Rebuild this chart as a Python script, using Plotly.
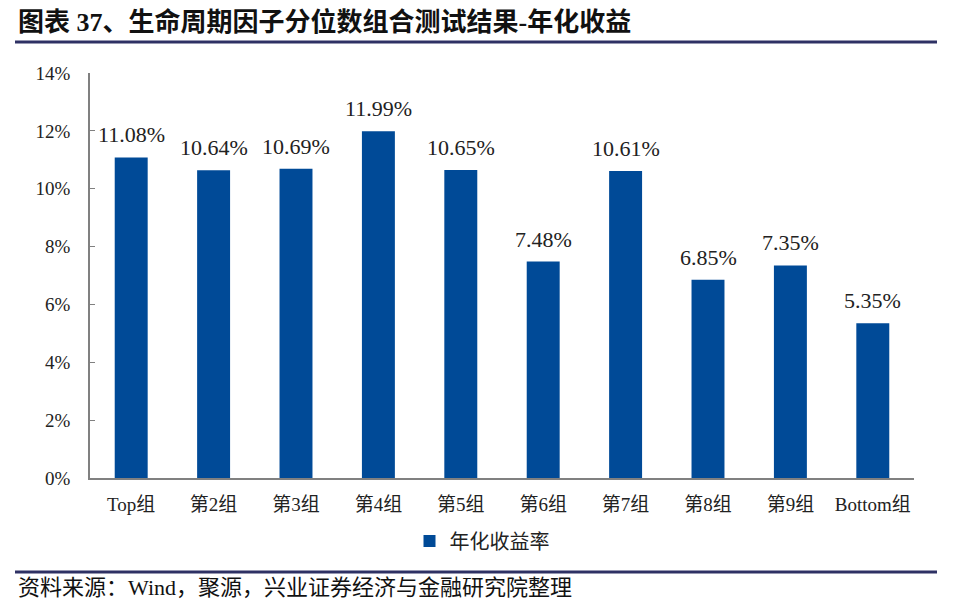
import plotly.graph_objects as go

categories = ["Top组", "第2组", "第3组", "第4组", "第5组", "第6组", "第7组", "第8组", "第9组", "Bottom组"]
annual_return = [11.08, 10.64, 10.69, 11.99, 10.65, 7.48, 10.61, 6.85, 7.35, 5.35]
y_ticks = [0, 2, 4, 6, 8, 10, 12, 14]
series_name = "年化收益率"
title_text = "图表 37、生命周期因子分位数组合测试结果-年化收益"
source_text = "资料来源：Wind，聚源，兴业证券经济与金融研究院整理"

FONT = "Liberation Serif, Times New Roman, Noto Sans CJK SC"
BAR = "#004A97"
NAVY = "#2E3164"

L, R, T, B = 90, 56, 73, 131
W, H = 970, 609
pw, ph = W - L - R, H - T - B

def px_x(x):
    return (x - L) / pw

def px_y(y):
    return (H - B - y) / ph

fig = go.Figure()
fig.add_trace(go.Bar(
    x=categories, y=annual_return, name=series_name,
    marker=dict(color=BAR, line=dict(width=0)),
    showlegend=True,
))

annotations = [
    dict(x=c, y=v, xref="x", yref="y", text=f"{v:.2f}%", showarrow=False,
         yanchor="bottom", yshift=8, font=dict(family=FONT, size=22, color="#222222"))
    for c, v in zip(categories, annual_return)
]
annotations += [
    dict(text=f"<b>{title_text}</b>", xref="paper", yref="paper", x=px_x(16), y=px_y(22),
         xanchor="left", yanchor="middle", showarrow=False,
         font=dict(family=FONT, size=26, color="#111111")),
    dict(text=source_text, xref="paper", yref="paper", x=px_x(16), y=px_y(587),
         xanchor="left", yanchor="middle", showarrow=False,
         font=dict(family=FONT, size=22, color="#111111")),
]

fig.update_layout(
    width=W, height=H,
    margin=dict(l=L, r=R, t=T, b=B),
    paper_bgcolor="white", plot_bgcolor="white",
    bargap=0.6,
    font=dict(family=FONT, color="#222222"),
    showlegend=True,
    legend=dict(orientation="h", x=px_x(482), xanchor="center", y=px_y(541), yanchor="middle",
                font=dict(family=FONT, size=20, color="#222222"), itemwidth=30),
    xaxis=dict(showline=True, linecolor="#808080", linewidth=1.5, ticks="",
               tickfont=dict(family=FONT, size=19, color="#222222"),
               ticklabelstandoff=8, showgrid=False),
    yaxis=dict(range=[0, 14], tickvals=y_ticks, ticktext=[f"{v}%" for v in y_ticks],
               showline=True, linecolor="#808080", linewidth=1.5,
               ticks="inside", ticklen=5, tickcolor="#808080",
               tickfont=dict(family=FONT, size=19, color="#222222"),
               ticklabelstandoff=14, showgrid=False, zeroline=False),
    shapes=[
        dict(type="line", xref="paper", yref="paper", x0=px_x(15), x1=px_x(937), y0=px_y(42), y1=px_y(42),
             line=dict(color=NAVY, width=3)),
        dict(type="line", xref="paper", yref="paper", x0=px_x(15), x1=px_x(937), y0=px_y(572), y1=px_y(572),
             line=dict(color=NAVY, width=3)),
    ],
    annotations=annotations,
)

fig.write_html("out.html", config={"displayModeBar": False},
               post_script="document.body.style.margin='0';document.body.style.overflow='hidden';")
